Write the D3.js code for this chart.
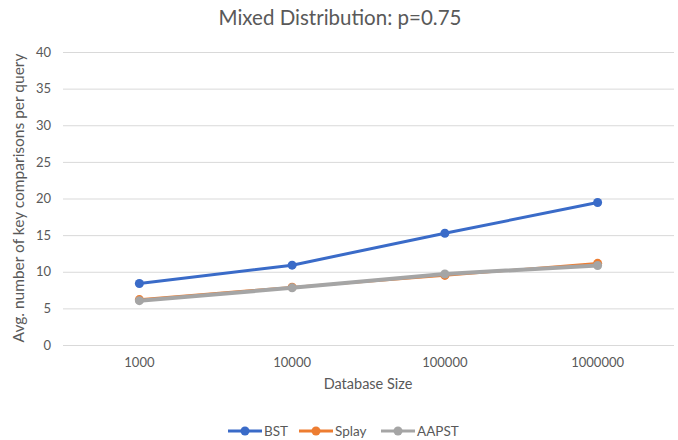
<!DOCTYPE html>
<html><head><meta charset="utf-8">
<script src="https://cdn.jsdelivr.net/npm/d3@7"></script>
<style>body{margin:0;background:#fff}svg{display:block}text{font-family:Lato,"Open Sans",sans-serif;fill:#595959}</style>
</head><body><svg id="c" width="678" height="440"></svg>
<script>
const categories = ["1000","10000","100000","1000000"];
const seriesNames = ["BST","Splay","AAPST"];
const bstValues = [8.4, 10.9, 15.25, 19.45];
const splayValues = [6.2, 7.9, 9.5, 11.15];
const aapstValues = [6.05, 7.8, 9.7, 10.85];
const yTicks = [0,5,10,15,20,25,30,35,40];
const colors = ["#3A6BC8","#ED7D31","#A5A5A5"];
const widths = [3, 2.5, 4];

const svg = d3.select("#c");
const m = {l:63, r:674, t:52, b:345};
const x = d3.scaleBand().domain(categories).range([m.l, m.r]);
const y = d3.scaleLinear().domain([0,40]).range([m.b, m.t]);

svg.append("text").attr("x",340).attr("y",25).attr("text-anchor","middle").style("font-size","20.5px").text("Mixed Distribution: p=0.75");

const yAxis = d3.axisLeft(y).tickValues(yTicks).tickSize(-(m.r-m.l)).tickPadding(12);
const gy = svg.append("g").attr("transform",`translate(${m.l},0)`).call(yAxis);
gy.select(".domain").remove();
gy.selectAll(".tick line").attr("stroke","#d9d9d9").attr("stroke-width",1);
gy.selectAll(".tick text").style("font-size","13px").style("fill","#595959");

const xAxis = d3.axisBottom(x).tickSize(0).tickPadding(13);
const gx = svg.append("g").attr("transform",`translate(0,${m.b})`).call(xAxis);
gx.select(".domain").remove();
gx.selectAll(".tick text").style("font-size","13px").style("fill","#595959");

svg.append("text").attr("x",368).attr("y",389).attr("text-anchor","middle").style("font-size","14.5px").text("Database Size");
svg.append("text").attr("transform","translate(24,198) rotate(-90)").attr("text-anchor","middle").style("font-size","15.5px").text("Avg. number of key comparisons per query");

const data = [bstValues, splayValues, aapstValues];
const line = d3.line().x((d,i)=>x(categories[i])+x.bandwidth()/2).y(d=>y(d)).curve(d3.curveLinear);
[0,1,2].forEach(k=>{
  const g = svg.append("g");
  g.append("path").attr("d",line(data[k])).attr("fill","none").attr("stroke",colors[k]).attr("stroke-width",widths[k]).attr("stroke-linecap","round").attr("stroke-linejoin","round");
  g.selectAll("circle").data(data[k]).join("circle")
    .attr("cx",(d,i)=>x(categories[i])+x.bandwidth()/2).attr("cy",d=>y(d)).attr("r",4.5).attr("fill",colors[k]);
});

const legendX = [228, 299, 381];
const leg = svg.append("g");
seriesNames.forEach((n,k)=>{
  const lx = legendX[k];
  leg.append("line").attr("x1",lx).attr("x2",lx+34).attr("y1",431).attr("y2",431).attr("stroke",colors[k]).attr("stroke-width",3);
  leg.append("circle").attr("cx",lx+17).attr("cy",431).attr("r",4.5).attr("fill",colors[k]);
  leg.append("text").attr("x",lx+36).attr("y",436).style("font-size","13.5px").text(n);
});
</script></body></html>
